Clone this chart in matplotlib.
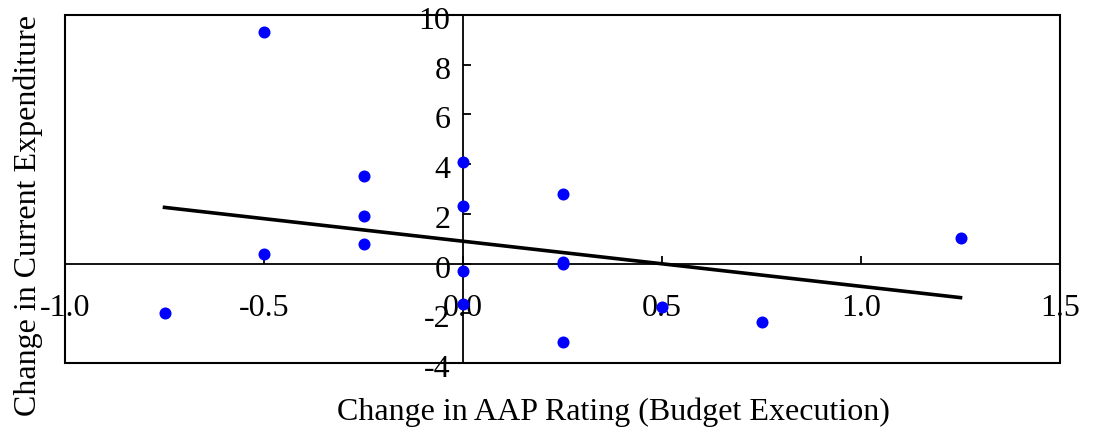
import numpy as np
import matplotlib
matplotlib.use("Agg")
import matplotlib.pyplot as plt
import matplotlib.transforms as mtransforms
from matplotlib.patches import Rectangle

plt.rcParams['font.family'] = ['Liberation Serif', 'DejaVu Serif']

# change in AAP rating vs change in current expenditure
aap_change = [-0.75, -0.5, -0.5, -0.25, -0.25, -0.25, 0.0, 0.0, 0.0, 0.0,
              0.25, 0.25, 0.25, 0.25, 0.5, 0.75, 1.25]
exp_change = [-1.97, 9.32, 0.38, 3.52, 1.91, 0.78, 4.07, 2.32, -0.28, -1.63,
              2.80, 0.08, -0.02, -3.14, -1.73, -2.36, 1.02]

# trend line
fit_x = [-0.75, 1.25]
fit_y = [2.26, -1.37]

xticks = [-1.0, -0.5, 0.0, 0.5, 1.0, 1.5]
yticks = [-4, -2, 0, 2, 4, 6, 8, 10]

fig = plt.figure(figsize=(10.94, 4.30), dpi=100)
ax = fig.add_axes([65/1094, 67/430, 995/1094, 348/430])

ax.scatter(aap_change, exp_change, s=75, color='#0000ff', zorder=3, linewidths=0)
ax.plot(fit_x, fit_y, color='black', lw=2.6, zorder=4)

ax.set_xlim(-1.0, 1.5)
ax.set_ylim(-4, 10)

ax.spines['left'].set_position(('data', 0))
ax.spines['bottom'].set_position(('data', 0))
ax.spines['right'].set_visible(False)
ax.spines['top'].set_visible(False)
for s in ['left', 'bottom']:
    ax.spines[s].set_linewidth(1.3)

# outer frame
ax.add_patch(Rectangle((0, 0), 1, 1, transform=ax.transAxes, fill=False,
                       lw=1.5, ec='black', clip_on=False, zorder=5))

ax.set_xticks(xticks)
ax.set_xticklabels(['%.1f' % v for v in xticks])
ax.set_yticks(yticks)
ax.set_yticklabels([str(v) for v in yticks])
ax.tick_params(axis='x', direction='in', length=6, width=1.3, pad=22, labelsize=23)
ax.tick_params(axis='y', direction='in', length=6, width=1.3, pad=9, labelsize=23)

# y labels sit a little below their ticks
shift = mtransforms.ScaledTranslation(0, -3/100, fig.dpi_scale_trans)
for lbl in ax.get_yticklabels():
    lbl.set_transform(lbl.get_transform() + shift)

fig.text(613/1094, 1 - 412/430, 'Change in AAP Rating (Budget Execution)',
         ha='center', va='center', fontsize=23)
fig.text(28/1094, 1 - 215/430, 'Change in Current Expenditure',
         ha='center', va='center', rotation=90, fontsize=23)

fig.savefig('out.png', dpi=100)
